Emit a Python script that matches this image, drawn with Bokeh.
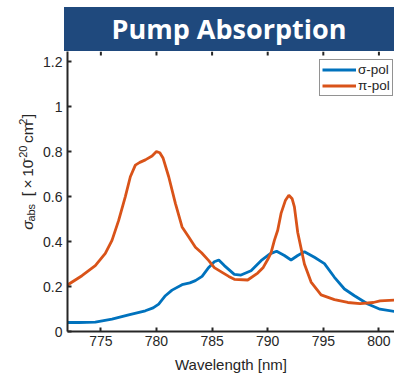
import numpy as np
from bokeh.plotting import figure
from bokeh.models import Range1d, FixedTicker, Legend, LegendItem, Div
from bokeh.layouts import column, row
from bokeh.core.properties import value
from bokeh.embed import file_html
from bokeh.resources import INLINE

# ---- data ----
sigma_wl = [772.0, 773.0, 774.5, 776.0, 777.5, 779.0, 779.7, 780.2, 780.8, 781.4, 782.3,
            783.0, 783.5, 784.1, 784.7, 785.2, 785.6, 786.1, 787.0, 787.6, 788.5,
            789.4, 790.2, 790.8, 791.5, 792.1, 792.7, 793.3, 794.2, 795.1, 796.0,
            796.9, 797.8, 799.0, 800.1, 801.4]
sigma_val = [0.040, 0.040, 0.042, 0.055, 0.074, 0.092, 0.105, 0.122, 0.159, 0.184, 0.208,
             0.216, 0.226, 0.245, 0.285, 0.310, 0.318, 0.293, 0.254, 0.251, 0.270,
             0.315, 0.345, 0.357, 0.338, 0.318, 0.338, 0.355, 0.330, 0.302, 0.241,
             0.189, 0.159, 0.122, 0.099, 0.089]

pi_wl = [772.0, 773.3, 774.5, 775.4, 776.0, 776.6, 777.2, 777.65, 778.1, 778.5, 779.0,
         779.6, 780.0, 780.3, 780.6, 781.1, 781.7, 782.3, 782.9, 783.5, 784.05, 784.7,
         785.2, 785.9, 786.5, 787.0, 788.2, 789.1, 789.6, 790.0, 790.3, 790.6,
         790.9, 791.2, 791.6, 791.9, 792.2, 792.4, 792.7, 793.3, 793.9, 794.8,
         796.0, 797.2, 798.3, 799.5, 800.1, 801.4]
pi_val = [0.207, 0.248, 0.293, 0.347, 0.405, 0.494, 0.600, 0.688, 0.740, 0.752, 0.763,
          0.780, 0.800, 0.795, 0.770, 0.688, 0.570, 0.465, 0.420, 0.375, 0.350, 0.315,
          0.284, 0.263, 0.245, 0.232, 0.229, 0.260, 0.285, 0.320, 0.350, 0.405,
          0.450, 0.525, 0.584, 0.606, 0.590, 0.554, 0.440, 0.300, 0.220, 0.163,
          0.142, 0.129, 0.124, 0.129, 0.136, 0.140]

x_ticks = [775, 780, 785, 790, 795, 800]
y_ticks = [0, 0.2, 0.4, 0.6, 0.8, 1.0, 1.2]
y_tick_labels = ["0", "0.2", "0.4", "0.6", "0.8", "1", "1.2"]
title_text = "Pump Absorption"
x_label = "Wavelength [nm]"
series_names = ["σ-pol", "π-pol"]
colors = ["#0072BD", "#D95319"]

# ---- layout constants ----
W = 394
LAB_W = 40                 # strip that holds the rotated y-axis label
BANNER_H = 51
FIG_H = 376 - BANNER_H
LEFT = 65                  # page x of the plot frame's left edge
BOTTOM = 45
FRAME_H = FIG_H - BOTTOM
FRAME_W = W - LEFT
X0, X1 = 772.0, 801.4
Y0, Y1 = 0.0, 1.245
INK = "#262626"
FONT = "Liberation Sans"

p = figure(width=W - LAB_W, height=FIG_H, x_range=Range1d(X0, X1), y_range=Range1d(Y0, Y1),
           output_backend="svg", toolbar_location=None,
           min_border_left=LEFT - LAB_W, min_border_right=0, min_border_top=0,
           min_border_bottom=BOTTOM)
p.outline_line_color = None
p.grid.visible = False
p.background_fill_color = "white"

r1 = p.line(sigma_wl, sigma_val, color=colors[0], line_width=2.8)
r2 = p.line(pi_wl, pi_val, color=colors[1], line_width=2.8)

for ax in (p.xaxis[0], p.yaxis[0]):
    ax.axis_line_color = INK
    ax.axis_line_width = 2
    ax.major_tick_line_color = INK
    ax.major_tick_line_width = 2
    ax.major_tick_in = 4
    ax.major_tick_out = 0
    ax.minor_tick_line_color = None
    ax.major_label_text_color = INK
    ax.major_label_text_font = FONT
    ax.major_label_text_font_size = "14px"

p.xaxis.ticker = FixedTicker(ticks=x_ticks)
p.xaxis.major_label_standoff = 4
p.xaxis.axis_label = x_label
p.xaxis.axis_label_text_font = FONT
p.xaxis.axis_label_text_font_size = "15px"
p.xaxis.axis_label_text_font_style = "normal"
p.xaxis.axis_label_text_color = INK
p.xaxis.axis_label_standoff = 7

p.yaxis.ticker = FixedTicker(ticks=y_ticks)
p.yaxis.major_label_overrides = {t: s for t, s in zip(y_ticks, y_tick_labels)}
p.yaxis.major_label_standoff = 5

# inward tick marks along the top edge, at the x tick values
p.ray(x=x_ticks, y=[Y1] * len(x_ticks), length=4, length_units="screen",
      angle=-np.pi / 2, line_color=INK, line_width=2)

legend = Legend(items=[LegendItem(label=series_names[0], renderers=[r1]),
                       LegendItem(label=series_names[1], renderers=[r2])],
                location=(252, FRAME_H - 10 - 35), padding=2, spacing=1, margin=0,
                glyph_width=34, glyph_height=15, label_height=15, label_width=30,
                label_standoff=2,
                label_text_font=FONT, label_text_font_size="13.5px", label_text_color=INK,
                border_line_color=INK, border_line_width=1, background_fill_alpha=1)
p.add_layout(legend)

# ---- y axis label: rotated text pieces in a narrow strip at the left ----
lab = figure(width=LAB_W, height=FIG_H, x_range=Range1d(0, LAB_W), y_range=Range1d(0, FIG_H),
             output_backend="svg", toolbar_location=None, min_border=0,
             x_axis_location=None, y_axis_location=None)
lab.outline_line_color = None
lab.grid.visible = False

F, f = 15.5, 11.0          # main and script font sizes (px)
BASE = 27                  # page x of main baseline
# (text, size, baseline shift, advance in em, gap before in em, italic)
pieces = [
    ("σ", F, 0, 0.57, 0.0, True),
    ("abs", f, 3, 1.612, 0.05, False),
    ("[", F, 0, 0.278, 0.75, False),
    ("×", F, 0, 0.584, 0.3, False),
    ("10", F, 0, 1.112, 0.3, False),
    ("-20", f, -5, 1.445, 0.05, False),
    ("cm", F, 0, 1.333, 0.35, False),
    ("2", f, -5, 0.556, 0.05, False),
    ("]", F, 0, 0.278, 0.1, False),
]
total = sum(s * (adv + gap) for _, s, _, adv, gap, _ in pieces)
centre = BANNER_H + FRAME_H / 2.0
pos = centre + total / 2.0   # page y where the label starts (bottom end)
for txt, s, shift, adv, gap, it in pieces:
    pos -= s * gap
    lab.text(x=[BASE + shift], y=[BANNER_H + FIG_H - pos], text=[txt], angle=np.pi / 2,
             text_align="left", text_baseline="alphabetic",
             text_font=value(FONT), text_font_size=value(f"{s}px"), text_color=INK,
             text_font_style="italic" if it else "normal")
    pos -= s * adv

banner = Div(text=(f'<div style="margin-left:{LEFT - 1}px;margin-top:7px;width:{FRAME_W + 1}px;'
                   f'height:{BANNER_H - 7}px;'
                   'background:#1F497D;color:#ffffff;font-family:\'Open Sans\';font-weight:bold;'
                   'font-size:27px;display:flex;align-items:center;justify-content:center;">'
                   f'{title_text}</div>'),
             width=W, height=BANNER_H, margin=0)

layout = column(banner, row(lab, p, spacing=0), spacing=0)
open("out.html", "w").write(file_html(layout, INLINE))
